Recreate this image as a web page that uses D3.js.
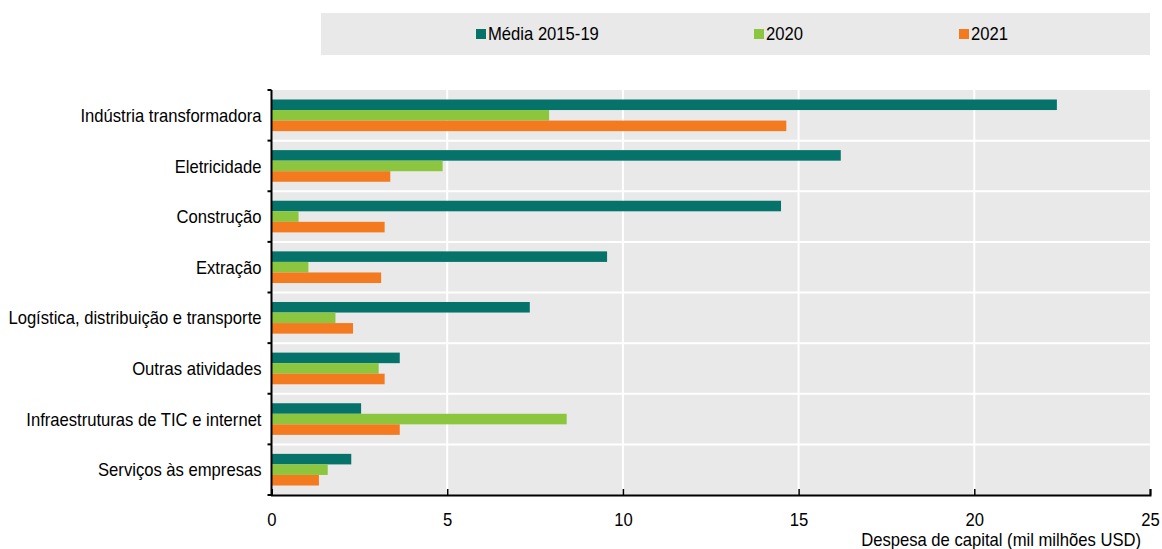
<!DOCTYPE html>
<html>
<head>
<meta charset="utf-8">
<script src="https://cdn.jsdelivr.net/npm/d3@7"></script>
<style>
  body { margin: 0; background: #fff; }
  svg text { font-family: "Liberation Sans", Arial, sans-serif; font-size: 19px; fill: #000; }
</style>
</head>
<body>
<div id="chart"></div>
<script>
// categories and series
const categories = [
  'Indústria transformadora',
  'Eletricidade',
  'Construção',
  'Extração',
  'Logística, distribuição e transporte',
  'Outras atividades',
  'Infraestruturas de TIC e internet',
  'Serviços às empresas'
]
const seriesNames = ['Média 2015-19', '2020', '2021']
const media1519 = [22.35, 16.2, 14.5, 9.55, 7.35, 3.65, 2.55, 2.27]
const y2020 = [7.9, 4.87, 0.77, 1.05, 1.82, 3.05, 8.4, 1.6]
const y2021 = [14.65, 3.38, 3.22, 3.12, 2.32, 3.22, 3.65, 1.35]
const xTicks = [0, 5, 10, 15, 20, 25]
const colors = ['#05736a', '#8cc63f', '#f47a20']

const width = 1162,
  height = 549
const margin = { top: 90, right: 12, bottom: 54, left: 271.5 }
const squeeze = 0.875 // narrow font look

let svg = d3.select('#chart')
  .append('svg')
  .attr('width', width)
  .attr('height', height)

// put a text at (tx, ty), horizontally condensed
let placeText = (sel, tx, ty) => sel.attr('transform', `translate(${tx}, ${ty}) scale(${squeeze}, 1)`)

const rows = categories.map((c, i) => ({
  cat: c,
  vals: [media1519[i], y2020[i], y2021[i]]
}))

const x = d3.scaleLinear()
  .domain([0, 25])
  .range([margin.left, width - margin.right])

const y0 = d3.scaleBand()
  .domain(categories)
  .range([margin.top, height - margin.bottom])

const y1 = d3.scaleBand()
  .domain(d3.range(seriesNames.length))
  .range([0, y0.bandwidth()])
  .paddingOuter(0.9)

// legend
svg.append('rect')
  .attr('x', 321).attr('y', 13)
  .attr('width', 829).attr('height', 42)
  .attr('fill', '#e9e9e9')

const legendX = [476, 754, 959]
seriesNames.forEach((s, i) => {
  const g = svg.append('g').attr('transform', `translate(${legendX[i]}, 29)`)
  g.append('rect').attr('width', 10).attr('height', 10).attr('fill', colors[i])
  g.append('text').call(placeText, 12, 11).text(s)
})

// plot background
svg.append('rect')
  .attr('x', x(0)).attr('y', margin.top)
  .attr('width', x(25) - x(0))
  .attr('height', height - margin.bottom - margin.top)
  .attr('fill', '#e9e9e9')

// grid
svg.append('g')
  .selectAll('line')
  .data(xTicks.slice(1, -1))
  .enter()
  .append('line')
  .attr('x1', d => x(d)).attr('x2', d => x(d))
  .attr('y1', margin.top).attr('y2', height - margin.bottom)
  .attr('stroke', '#fff').attr('stroke-width', 2)

svg.append('g')
  .selectAll('line')
  .data(categories.slice(1))
  .enter()
  .append('line')
  .attr('x1', x(0)).attr('x2', x(25))
  .attr('y1', d => y0(d)).attr('y2', d => y0(d))
  .attr('stroke', '#fff').attr('stroke-width', 2)

// bars
svg.append('g')
  .selectAll('g')
  .data(rows)
  .enter()
  .append('g')
  .attr('transform', d => `translate(0, ${y0(d.cat)})`)
  .selectAll('rect')
  .data(d => d.vals)
  .enter()
  .append('rect')
  .attr('x', x(0))
  .attr('y', (d, i) => y1(i))
  .attr('width', d => x(d) - x(0))
  .attr('height', y1.bandwidth())
  .attr('fill', (d, i) => colors[i])

// left axis
const boundaries = categories.map(c => y0(c)).concat([height - margin.bottom])
svg.append('g')
  .selectAll('line')
  .data(boundaries)
  .enter()
  .append('line')
  .attr('x1', x(0) - 4).attr('x2', x(0))
  .attr('y1', d => d).attr('y2', d => d)
  .attr('stroke', '#000').attr('stroke-width', 2)

svg.append('line')
  .attr('x1', x(0)).attr('x2', x(0))
  .attr('y1', margin.top).attr('y2', height - margin.bottom + 1)
  .attr('stroke', '#000').attr('stroke-width', 2)

svg.append('g')
  .selectAll('text')
  .data(categories)
  .enter()
  .append('text')
  .each(function (d) {
    d3.select(this).call(placeText, x(0) - 10, y0(d) + y0.bandwidth() / 2)
  })
  .attr('dy', '0.35em')
  .attr('text-anchor', 'end')
  .text(d => d)

// bottom axis
const xAxis = svg.append('g')
  .attr('transform', `translate(0, ${height - margin.bottom})`)
  .call(d3.axisBottom(x).tickValues(xTicks).tickSize(-6).tickPadding(18))
xAxis.select('.domain').attr('stroke', '#000').attr('stroke-width', 2)
xAxis.selectAll('.tick line').attr('stroke', '#000').attr('stroke-width', 1.5)
xAxis.selectAll('.tick text')
  .attr('transform', `scale(${squeeze}, 1)`)
  .attr('y', 24)
  .attr('dy', '0.35em')
  .style('font-size', '19px')
  .style('font-family', '"Liberation Sans", Arial, sans-serif')

svg.append('text')
  .call(placeText, 1141, 546)
  .attr('text-anchor', 'end')
  .text('Despesa de capital (mil milhões USD)')
</script>
</body>
</html>
